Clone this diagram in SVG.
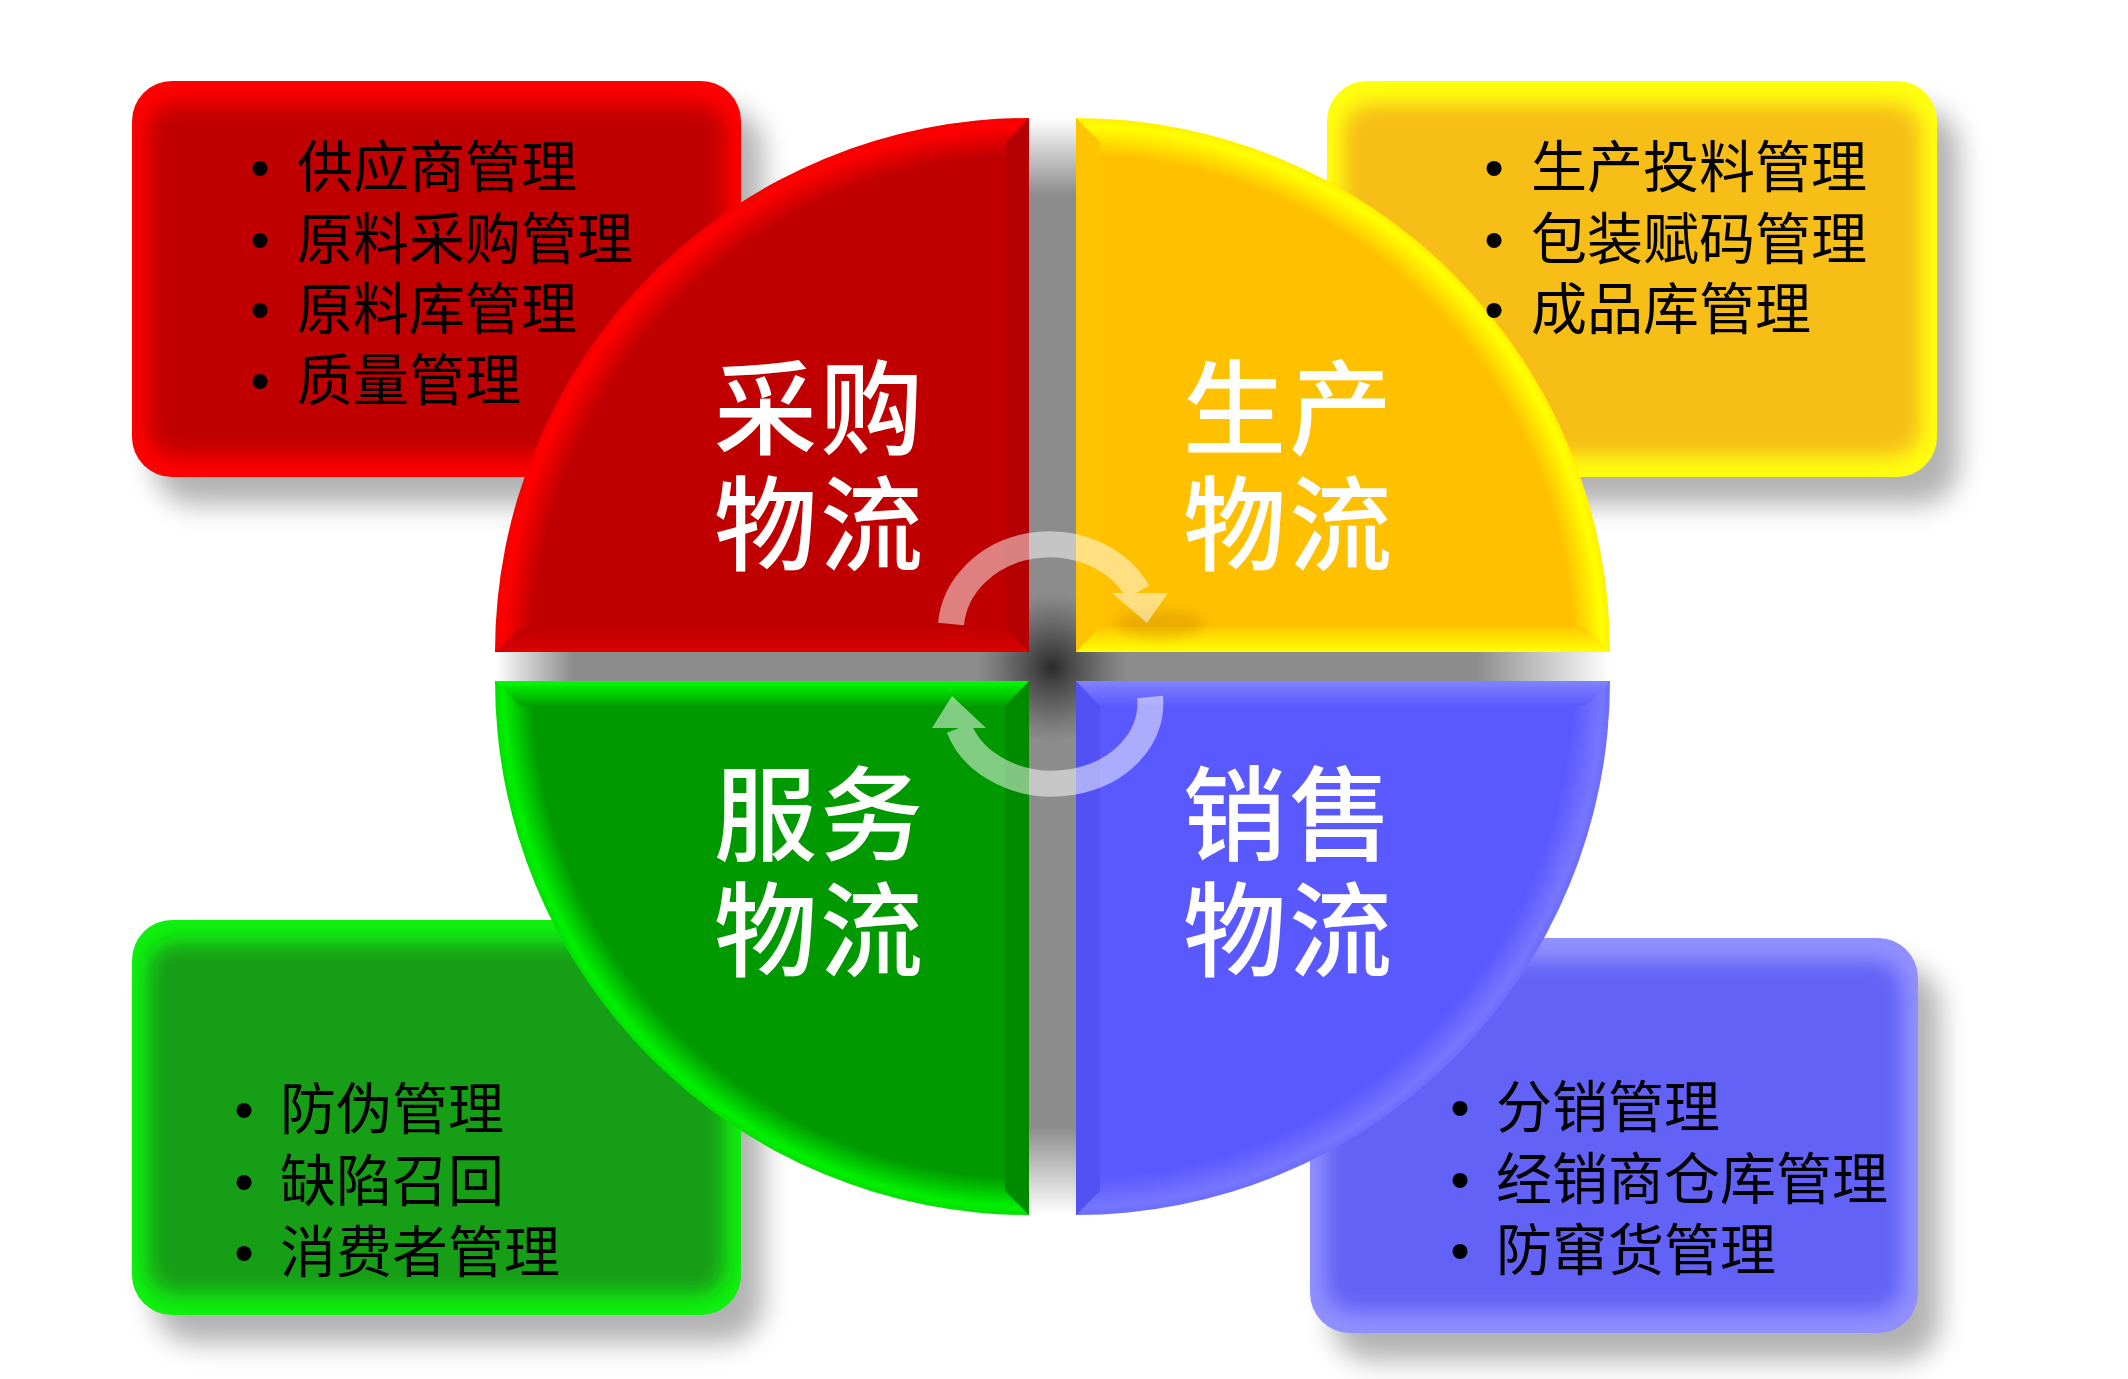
<svg xmlns="http://www.w3.org/2000/svg" width="2128" height="1379" viewBox="0 0 2128 1379">
<defs>
<style>
.item{font-family:'Liberation Sans','Noto Sans CJK SC',sans-serif;font-size:56px;fill:#000}
.bul{font-family:'Liberation Sans',Arial,sans-serif;font-size:56px;fill:#000;text-anchor:middle}
.big{font-family:'Liberation Sans','Noto Sans CJK SC',sans-serif;font-size:103px;letter-spacing:3px;font-weight:500;fill:#fff;text-anchor:middle}
.arc{fill:none;stroke:#fff;stroke-width:26}
</style>
<filter id="blur10" x="-20%" y="-20%" width="140%" height="140%"><feGaussianBlur stdDeviation="10"/></filter>
<filter id="blur14" x="-20%" y="-20%" width="140%" height="140%"><feGaussianBlur stdDeviation="14"/></filter>
<filter id="blur6" x="-30%" y="-30%" width="160%" height="160%"><feGaussianBlur stdDeviation="6"/></filter>
<clipPath id="cpR"><rect x="132" y="81" width="609" height="396" rx="40"/></clipPath>
<clipPath id="cpY"><rect x="1327" y="81" width="610" height="396" rx="40"/></clipPath>
<clipPath id="cpG"><rect x="132" y="920" width="609" height="395" rx="40"/></clipPath>
<clipPath id="cpB"><rect x="1310" y="938" width="608" height="395" rx="40"/></clipPath>
<radialGradient id="rimR" gradientUnits="userSpaceOnUse" cx="1029" cy="652" r="534">
<stop offset="0" stop-color="#c00000"/><stop offset="0.93" stop-color="#c00000"/><stop offset="0.985" stop-color="#ff0000"/><stop offset="1" stop-color="#f40000"/></radialGradient>
<radialGradient id="rimY" gradientUnits="userSpaceOnUse" cx="1076" cy="652" r="534">
<stop offset="0" stop-color="#ffc000"/><stop offset="0.93" stop-color="#ffc000"/><stop offset="0.985" stop-color="#ffff00"/><stop offset="1" stop-color="#fff000"/></radialGradient>
<radialGradient id="rimG" gradientUnits="userSpaceOnUse" cx="1029" cy="681" r="534">
<stop offset="0" stop-color="#009900"/><stop offset="0.93" stop-color="#009900"/><stop offset="0.985" stop-color="#00f000"/><stop offset="1" stop-color="#00e000"/></radialGradient>
<radialGradient id="rimB" gradientUnits="userSpaceOnUse" cx="1076" cy="681" r="534">
<stop offset="0" stop-color="#5959ff"/><stop offset="0.93" stop-color="#5959ff"/><stop offset="0.985" stop-color="#7676ff"/><stop offset="1" stop-color="#6c6cff"/></radialGradient>
<linearGradient id="bandR" gradientUnits="userSpaceOnUse" x1="0" y1="628" x2="0" y2="652"><stop offset="0" stop-color="#c00000"/><stop offset="1" stop-color="#dc0000"/></linearGradient>
<linearGradient id="bandY" gradientUnits="userSpaceOnUse" x1="0" y1="626" x2="0" y2="652"><stop offset="0" stop-color="#ffc800"/><stop offset="1" stop-color="#ffff00"/></linearGradient>
<linearGradient id="bandG" gradientUnits="userSpaceOnUse" x1="0" y1="681" x2="0" y2="707"><stop offset="0" stop-color="#00ff00"/><stop offset="1" stop-color="#009900"/></linearGradient>
<linearGradient id="bandB" gradientUnits="userSpaceOnUse" x1="0" y1="681" x2="0" y2="707"><stop offset="0" stop-color="#8282ff"/><stop offset="1" stop-color="#5959ff"/></linearGradient>
<linearGradient id="gapV" x1="0" y1="0" x2="0" y2="1"><stop offset="0" stop-color="#8c8c8c" stop-opacity="0"/><stop offset="0.07" stop-color="#8c8c8c"/><stop offset="0.92" stop-color="#8c8c8c"/><stop offset="1" stop-color="#8c8c8c" stop-opacity="0"/></linearGradient>
<linearGradient id="gapH" x1="0" y1="0" x2="1" y2="0"><stop offset="0" stop-color="#8c8c8c" stop-opacity="0"/><stop offset="0.07" stop-color="#8c8c8c"/><stop offset="0.88" stop-color="#8c8c8c"/><stop offset="1" stop-color="#8c8c8c" stop-opacity="0"/></linearGradient>
<radialGradient id="hub"><stop offset="0" stop-color="#2a2a2a"/><stop offset="0.5" stop-color="#444" stop-opacity="0.6"/><stop offset="1" stop-color="#555" stop-opacity="0"/></radialGradient>
</defs>
<rect width="2128" height="1379" fill="#fff"/>

<g id="box-shadows" fill="#000" opacity="0.3" filter="url(#blur14)">
<rect x="154" y="109" width="609" height="396" rx="40"/>
<rect x="1349" y="109" width="610" height="396" rx="40"/>
<rect x="154" y="948" width="609" height="395" rx="40"/>
<rect x="1332" y="966" width="608" height="395" rx="40"/>
</g>

<g id="box-caigou" clip-path="url(#cpR)">
<rect x="132" y="81" width="609" height="396" fill="#ff0000"/>
<rect x="148" y="104" width="577" height="352" rx="28" fill="#c00000" filter="url(#blur10)"/>
</g>
<g id="box-shengchan" clip-path="url(#cpY)">
<rect x="1327" y="81" width="610" height="396" fill="#ffff10"/>
<rect x="1343" y="104" width="578" height="352" rx="28" fill="#f6be18" filter="url(#blur10)"/>
</g>
<g id="box-fuwu" clip-path="url(#cpG)">
<rect x="132" y="920" width="609" height="395" fill="#10f010"/>
<rect x="148" y="943" width="577" height="351" rx="28" fill="#159e15" filter="url(#blur10)"/>
</g>
<g id="box-xiaoshou" clip-path="url(#cpB)">
<rect x="1310" y="938" width="608" height="395" fill="#9090ff"/>
<rect x="1326" y="961" width="576" height="351" rx="28" fill="#6262f6" filter="url(#blur10)"/>
</g>

<g id="pie-shadow">
<rect x="1029" y="118" width="47" height="1097" fill="url(#gapV)"/>
<rect x="495" y="652" width="1115" height="29" fill="url(#gapH)"/>
<circle cx="1052" cy="667" r="75" fill="url(#hub)"/>
</g>

<g id="node-caigou">
<path d="M1029 652 L495 652 A534 534 0 0 1 1029 118 Z" fill="url(#rimR)"/>
<polygon points="1029,118 1029,652 1006,628 1006,142" fill="#b40000"/>
<polygon points="495,652 1029,652 1006,628 520,628" fill="url(#bandR)"/>
<text class="big" x="820" y="447">采购<tspan x="820" y="563">物流</tspan></text>
</g>
<g id="node-shengchan">
<path d="M1076 652 L1076 118 A534 534 0 0 1 1610 652 Z" fill="url(#rimY)"/>
<polygon points="1076,118 1076,652 1100,628 1100,142" fill="#ffc400"/>
<polygon points="1076,652 1610,652 1585,627 1100,627" fill="url(#bandY)"/>
<ellipse cx="1160" cy="624" rx="45" ry="14" fill="#a05a00" opacity="0.2" filter="url(#blur6)"/>
<text class="big" x="1289" y="447">生产<tspan x="1289" y="563">物流</tspan></text>
</g>
<g id="node-fuwu">
<path d="M1029 681 L1029 1215 A534 534 0 0 1 495 681 Z" fill="url(#rimG)"/>
<polygon points="1029,681 1029,1215 1005,1191 1005,705" fill="#008a00"/>
<polygon points="495,681 1029,681 1005,706 520,706" fill="url(#bandG)"/>
<text class="big" x="820" y="853">服务<tspan x="820" y="969">物流</tspan></text>
</g>
<g id="node-xiaoshou">
<path d="M1076 681 L1610 681 A534 534 0 0 1 1076 1215 Z" fill="url(#rimB)"/>
<polygon points="1076,681 1076,1215 1100,1191 1100,705" fill="#5252f4"/>
<polygon points="1076,681 1610,681 1585,706 1100,706" fill="url(#bandB)"/>
<text class="big" x="1289" y="853">销售<tspan x="1289" y="969">物流</tspan></text>
</g>

<g id="connectors" opacity="0.5">
<g id="cycle-upper">
<path class="arc" d="M951 624 A99 87 0 0 1 1138 592"/>
<polygon points="1112,593 1168,593 1147,623" fill="#fff"/>
</g>
<g id="cycle-lower">
<path class="arc" d="M1150 697 A98 80 0 0 1 959 728"/>
<polygon points="932,728 986,728 952,696" fill="#fff"/>
</g>
</g>

<g id="items-caigou">
<text class="bul" x="260" y="187">•</text><text class="item" x="297" y="187">供应商管理</text>
<text class="bul" x="260" y="259">•</text><text class="item" x="297" y="259">原料采购管理</text>
<text class="bul" x="260" y="329">•</text><text class="item" x="297" y="329">原料库管理</text>
<text class="bul" x="260" y="400">•</text><text class="item" x="297" y="400">质量管理</text>
</g>
<g id="items-shengchan">
<text class="bul" x="1494" y="187">•</text><text class="item" x="1531" y="187">生产投料管理</text>
<text class="bul" x="1494" y="259">•</text><text class="item" x="1531" y="259">包装赋码管理</text>
<text class="bul" x="1494" y="329">•</text><text class="item" x="1531" y="329">成品库管理</text>
</g>
<g id="items-fuwu">
<text class="bul" x="244" y="1129">•</text><text class="item" x="280" y="1129">防伪管理</text>
<text class="bul" x="244" y="1201">•</text><text class="item" x="280" y="1201">缺陷召回</text>
<text class="bul" x="244" y="1272">•</text><text class="item" x="280" y="1272">消费者管理</text>
</g>
<g id="items-xiaoshou">
<text class="bul" x="1460" y="1127">•</text><text class="item" x="1496" y="1127">分销管理</text>
<text class="bul" x="1460" y="1199">•</text><text class="item" x="1496" y="1199">经销商仓库管理</text>
<text class="bul" x="1460" y="1270">•</text><text class="item" x="1496" y="1270">防窜货管理</text>
</g>
</svg>
